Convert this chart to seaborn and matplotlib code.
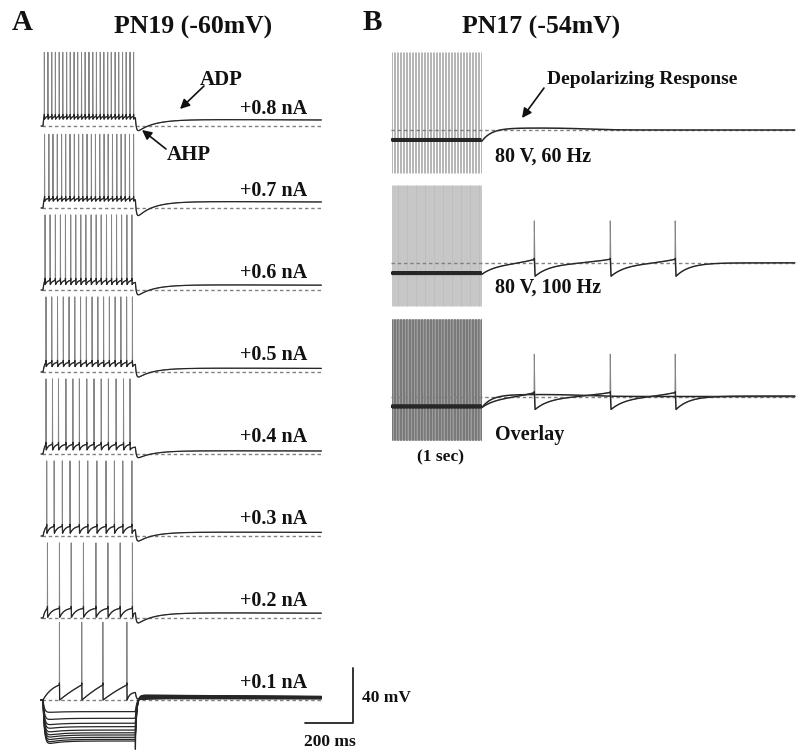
import numpy as np
import pandas as pd
import seaborn as sns
import matplotlib.pyplot as plt

# ------------------------------------------------------------------ data
# Panel A: PN19, current-step family
currents_A = ["+0.8 nA", "+0.7 nA", "+0.6 nA", "+0.5 nA",
              "+0.4 nA", "+0.3 nA", "+0.2 nA", "+0.1 nA"]
spike_times_A = [
    [5, 20, 36, 51, 67, 82, 98, 113, 129, 144, 160, 175, 191, 207, 222, 238,
     253, 269, 284, 300, 315, 331, 346, 362, 377],
    [6, 24, 41, 59, 77, 94, 112, 130, 148, 165, 183, 201, 218, 236, 254, 271,
     289, 307, 325, 342, 360, 377],
    [8, 29, 51, 72, 93, 115, 136, 157, 178, 200, 221, 242, 264, 285, 306, 327,
     349, 370],
    [12, 36, 60, 84, 108, 132, 156, 180, 204, 228, 252, 276, 300, 324, 348, 372],
    [12, 39, 64, 95, 124, 151, 182, 212, 242, 272, 304, 335, 362],
    [15, 46, 80, 112, 151, 186, 224, 262, 297, 332, 370],
    [18, 68, 117, 168, 220, 270, 321, 372],
    [68, 161, 249, 349],
]
spike_peak_A = [54, 54, 55, 55, 55, 55, 55, 57]        # mV above rest
isi_trough_A = [5, 5, 4, 4, 3, 2, 0.5, 0]               # mV
threshold_A = [7, 7, 7, 7, 7, 7, 7, 11]                 # mV
post_ahp_A = [-4, -6, -4, -4, -3, -4, -4, 0]            # mV
post_adp_A = [5, 5, 4, 3, 2.5, 3, 4, 1.5]               # mV
hyper_levels_A = [-8.5, -13.4, -17, -19.5, -22, -24, -25.6, -27.3, -28.8, -30]
stim_end_A = 385        # ms
sweep_end_A = 1162      # ms

# Panel B: PN17, synaptic stimulation
conditions_B = ["80 V, 60 Hz", "80 V, 100 Hz", "Overlay"]
stim_freqs_B = [60, 100]      # Hz
stim_end_B = 1000             # ms
sweep_end_B = 4480            # ms
spike_times_B = [1578, 2422, 3144]
spike_peak_B = 31             # mV
v_stim_B = -8                 # mV during train
artifact_top_B = 57           # mV
artifact_bottom_B = -31.5     # mV
dep_response_B = 1.5          # mV

# ------------------------------------------------------------------ layout
W, H = 800, 756
PX_MV = 82 / 60          # px per mV
A_X0, A_PXMS = 43, 0.24  # panel A: px of t=0, px per ms
A_Y0, A_STEP = 126, 60   # px of first baseline, mV between sweeps
B_X0, B_PXMS = 392, 0.09
B_Y0, B_STEP = 130, 97.5

sns.set_theme(style="white")
plt.rcParams['font.family'] = ['Liberation Serif', 'DejaVu Serif']
plt.rcParams['font.weight'] = 'bold'

fig = plt.figure(figsize=(W / 100, H / 100), dpi=100)
axA = fig.add_axes([0, 0, 390 / W, 1])
axA.set_xlim((0 - A_X0) / A_PXMS, (390 - A_X0) / A_PXMS)
axA.set_ylim((A_Y0 - H) / PX_MV, A_Y0 / PX_MV)
axA.axis('off')
axB = fig.add_axes([390 / W, 0, 410 / W, 1])
axB.set_xlim((390 - B_X0) / B_PXMS, (800 - B_X0) / B_PXMS)
axB.set_ylim((B_Y0 - H) / PX_MV, B_Y0 / PX_MV)
axB.axis('off')

TRACE = '#262626'
SPIKE = '#858585'
DASH = '#808080'


def ramp(t0, t1, v0, v1, k=2.0, step=1.0):
    n = max(int((t1 - t0) / step), 2)
    t = np.linspace(t0, t1, n)
    f = (t - t0) / (t1 - t0)
    g = (1 - np.exp(-k * f)) / (1 - np.exp(-k))
    return t, v0 + (v1 - v0) * g


def sweep_A(spikes, peak, trough, thr, ahp, adp):
    T, V = [-8.0, 0.0], [0.0, 0.0]
    tp, vp = 0.0, 0.0
    k = 0.4 if thr > 9 else 2.5
    for s in spikes:
        t, v = ramp(tp, s, vp, thr, k=k if tp > 0 else 1.5)
        T += list(t[1:]); V += list(v[1:])
        T += [s + 0.5, s + 1.4]; V += [peak, trough]
        tp, vp = s + 1.4, trough
    plateau = trough + 0.5 * (thr - trough)
    t, v = ramp(tp, stim_end_A, vp, plateau, k=3)
    T += list(t[1:]); V += list(v[1:])
    dt = np.arange(1.0, sweep_end_A - stim_end_A, 2.0)
    vpost = (plateau * np.exp(-dt / 4)
             + ahp * (np.exp(-dt / 55) - np.exp(-dt / 4)) / 0.7
             + adp * (1 - np.exp(-dt / 90)) * (1 - 0.12 * dt / 800))
    T += list(stim_end_A + dt); V += list(vpost)
    return np.array(T), np.array(V)


def sweep_hyper(L, deepest):
    t = np.arange(0, stim_end_A, 1.0)
    v = L * (1 - np.exp(-t / 6)) * (1 + 0.12 * np.exp(-t / 50))
    vend = v[-1]
    dt = np.arange(1.0, sweep_end_A - stim_end_A, 2.0)
    reb = -0.12 * L
    vp = vend * np.exp(-dt / 6) + reb * (1 - np.exp(-dt / 6)) * np.exp(-dt / 2500)
    if deepest:
        pre_t, pre_v = [stim_end_A - 0.5, stim_end_A], [vend, vend - 6]
    else:
        pre_t, pre_v = [], []
    return (np.concatenate([[-8, 0], t[1:], pre_t, stim_end_A + dt]),
            np.concatenate([[0, 0], v[1:], pre_v, vp]))


def draw(ax, t, v, off, color=TRACE, lw=0.8, cap=None):
    if cap is not None:
        df = pd.DataFrame({'t': t, 'v': v + off})
        sns.lineplot(data=df, x='t', y='v', ax=ax, sort=False, estimator=None,
                     color=SPIKE, lw=0.7, legend=False)
        v = np.minimum(v, cap)
    df = pd.DataFrame({'t': t, 'v': v + off})
    sns.lineplot(data=df, x='t', y='v', ax=ax, sort=False, estimator=None,
                 color=color, lw=lw, legend=False)


def ft(x, y, s, **kw):
    kw.setdefault('color', '#111111')
    kw.setdefault('fontweight', 'bold')
    fig.text(x / W, 1 - y / H, s, **kw)


def arrow(x1, y1, x2, y2):
    axA.annotate('', xy=(x2 / W, 1 - y2 / H), xytext=(x1 / W, 1 - y1 / H),
                 xycoords='figure fraction', textcoords='figure fraction',
                 arrowprops=dict(arrowstyle='-|>', color='#111111', lw=1.2,
                                 mutation_scale=14, shrinkA=0, shrinkB=0),
                 annotation_clip=False)


# ------------------------------------------------------------------ panel A
for i, lab in enumerate(currents_A):
    off = -A_STEP * i
    axA.plot([-5, sweep_end_A], [off, off], ls=(0, (2.5, 2.0)), color=DASH, lw=1.0)
    t, v = sweep_A(spike_times_A[i], spike_peak_A[i], isi_trough_A[i],
                   threshold_A[i], post_ahp_A[i], post_adp_A[i])
    draw(axA, t, v, off, lw=0.9, cap=threshold_A[i] + 1.5)
    ft(307, A_Y0 + A_STEP * PX_MV * i - 17, lab, fontsize=14.5,
       ha='right', va='center')
off_last = -A_STEP * (len(currents_A) - 1)
for n, L in enumerate(hyper_levels_A):
    t, v = sweep_hyper(L, n == len(hyper_levels_A) - 1)
    draw(axA, t, v, off_last, lw=0.9)

# scale bar (40 mV, 200 ms)
sb_t = (353 - A_X0) / A_PXMS
sb_v = (A_Y0 - 723) / PX_MV
axA.plot([sb_t - 200, sb_t, sb_t], [sb_v, sb_v, sb_v + 40], color='#222222', lw=1.3)
ft(362, 698, "40 mV", fontsize=12.5, ha='left', va='center')
ft(330, 742, "200 ms", fontsize=12.5, ha='center', va='center')

# ------------------------------------------------------------------ panel B
def stim_membrane(freq):
    T, V = [], []
    for tk in np.arange(0, stim_end_B, 1000 / freq):
        T += [tk, tk + 0.5, tk + 3.5]; V += [v_stim_B, v_stim_B + 1.8, v_stim_B - 0.3]
    T += [stim_end_B]; V += [v_stim_B]
    return np.array(T), np.array(V)


def post_60():
    dt = np.arange(0, sweep_end_B - stim_end_B, 4.0)
    v = (v_stim_B * np.exp(-dt / 110)
         + dep_response_B * (1 - np.exp(-dt / 110)) / (1 + np.exp((dt - 1150) / 150)))
    return stim_end_B + dt, v


def post_100():
    T, V = [], []
    te, v0 = stim_end_B, v_stim_B
    for s in spike_times_B + [sweep_end_B]:
        t = np.arange(te, s, 4.0)
        dt = t - te
        f = dt / (s - te)
        if s in spike_times_B:
            v = v0 * np.exp(-dt / 170) + 3.0 * f ** 3
        else:
            v = v0 * np.exp(-dt / 150) + 0.3 * (1 - np.exp(-dt / 150))
        T += list(t); V += list(v)
        if s in spike_times_B:
            T += [s, s + 3, s + 12]; V += [3.0, spike_peak_B, -9.5]
            te, v0 = s + 12, -9.5
    return np.array(T), np.array(V)


art_colors = {0: ['#b4b4b4'], 1: ['#bdbdbd'], 2: ['#1e1e1e', '#8a8a8a']}
for j, lab in enumerate(conditions_B):
    off = -B_STEP * j
    freqs = [stim_freqs_B[j]] if j < 2 else stim_freqs_B
    for fi, fr in enumerate(freqs):
        tk = np.arange(0, stim_end_B, 1000 / fr) + 2
        col = art_colors[j][fi]
        axB.vlines(tk, off + artifact_bottom_B, off + artifact_top_B,
                   color=col, lw=0.7 if fr == 60 else 0.6)
    axB.plot([-15, sweep_end_B], [off, off], ls=(0, (2.5, 2.0)), color=DASH, lw=1.0)
    for fr in freqs:
        t, v = stim_membrane(fr)
        draw(axB, t, v, off, lw=0.9)
    if j in (0, 2):
        t, v = post_60()
        draw(axB, t, v, off, lw=1.1)
    if j in (1, 2):
        t, v = post_100()
        draw(axB, t, v, off, lw=1.0, cap=3.5)
    ft(495, [157, 288, 435][j], lab, fontsize=14.5, ha='left', va='center')

ft(440, 457, "(1 sec)", fontsize=12.5, ha='center', va='center')

# ------------------------------------------------------------------ titles / annotations
ft(22, 22, "A", fontsize=21, ha='center', va='center')
ft(372, 22, "B", fontsize=21, ha='center', va='center')
ft(193, 27, "PN19 (-60mV)", fontsize=18.5, ha='center', va='center')
ft(541, 27, "PN17 (-54mV)", fontsize=18.5, ha='center', va='center')
ft(200, 80, "ADP", fontsize=15, ha='left', va='center')
ft(167, 155, "AHP", fontsize=15, ha='left', va='center')
ft(547, 80, "Depolarizing Response", fontsize=14, ha='left', va='center')
arrow(204, 86, 180, 109)
arrow(166, 149, 142, 130)
arrow(544, 88, 522, 118)

fig.savefig("out.png", dpi=100)
